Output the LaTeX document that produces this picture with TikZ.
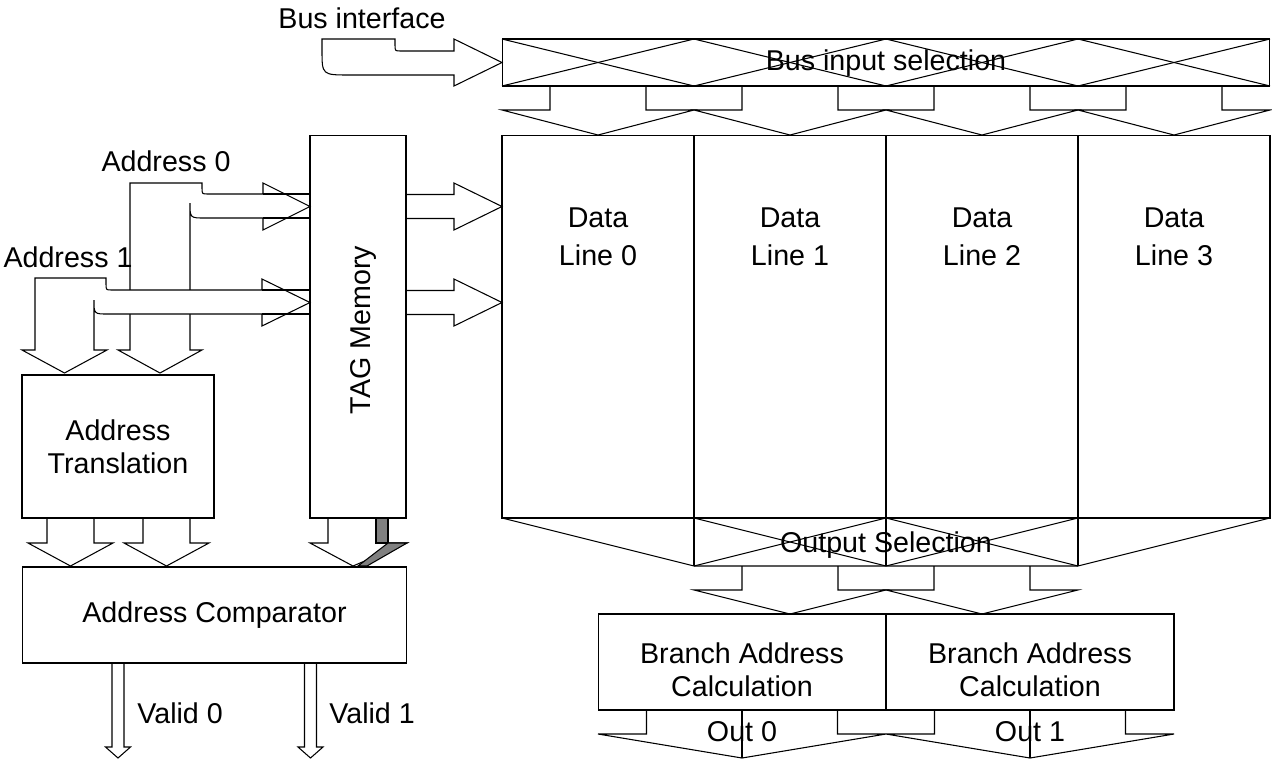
\documentclass[tikz,border=0pt]{standalone}
\usepackage{fontspec}
\setmainfont{Liberation Sans}
\tikzset{
	blockbox/.style={draw, line width=0.6pt, inner sep=0pt, outer sep=0pt},
	fatarrow/.style={draw, fill=white, line width=0.6pt, line join=miter},
	shadebar/.style={draw, fill=black!50, line width=0.6pt},
	lbl/.style={inner sep=0pt, align=center, font=\fontsize{16.3}{18.8}\selectfont}
}

\begin{document}
\begin{tikzpicture}[x=0.02cm,y=-0.02cm]
		\useasboundingbox (0,0) rectangle (1272,762);
		% bus interface arrow
		\draw[fatarrow] (322,39) -- (395,39) -- (395,45) .. controls (395,51) .. (401,51) -- (454,51) -- (454,39) -- (502,62.5) -- (454,86) -- (454,75) -- (350,75) .. controls (322,75) .. (322,50) -- cycle;
		% bus input selection -> data lines
		\foreach \c in {598,790,982,1174}
			\draw[fatarrow] (\c-48,86) -- (\c-48,110) -- (\c-96,110) -- (\c,135) -- (\c+96,110) -- (\c+48,110) -- (\c+48,86);
		% address 0
		\draw[fatarrow] (130,183) -- (202,183) -- (202,188) .. controls (202,194) .. (208,194) -- (263,194) -- (263,183) -- (310,206.5) -- (263,230) -- (263,218) -- (205,218) .. controls (190,218) .. (190,203) -- (190,350) -- (202,350) -- (160,373) -- (118,350) -- (130,350) -- cycle;
		\draw[line width=0.6pt] (263,194) -- (310,194) (263,218) -- (310,218);
		% address 1
		\draw[fatarrow] (35,278) -- (106,278) -- (106,284) .. controls (106,290) .. (112,290) -- (262,290) -- (262,279) -- (310,302.5) -- (262,326) -- (262,314) -- (108,314) .. controls (94,314) .. (94,300) -- (94,350) -- (107,350) -- (64.5,373) -- (22,350) -- (35,350) -- cycle;
		\draw[line width=0.6pt] (262,290) -- (310,290) (262,314) -- (310,314);
		% tag memory -> data line 0
		\foreach \m in {206.5,302.5}
			\draw[fatarrow] (406,\m-12) -- (454,\m-12) -- (454,\m-23.5) -- (502,\m) -- (454,\m+23.5) -- (454,\m+12) -- (406,\m+12);
		% address translation -> comparator
		\foreach \c in {70.5,166.5}
			\draw[fatarrow] (\c-23.5,518) -- (\c-23.5,543) -- (\c-42.5,543) -- (\c,566) -- (\c+42.5,543) -- (\c+23.5,543) -- (\c+23.5,518);
		% tag memory -> comparator
		\draw[fatarrow] (328,518) -- (328,543) -- (310,543) -- (353,566) -- (407,543) -- (388,543) -- (388,518);
		\draw[shadebar] (376,518) rectangle (388,543);
		\draw[shadebar] (388,543) -- (407,543) -- (367,566) -- (358,566) -- cycle;
		% valid outputs
		\foreach \c in {118,310.5}
			\draw[fatarrow] (\c-6,663) -- (\c-6,747) -- (\c-12.5,747) -- (\c,758) -- (\c+12.5,747) -- (\c+6,747) -- (\c+6,663);
		% output selection -> branch
		\foreach \c in {790,982}
			\draw[fatarrow] (\c-48,566) -- (\c-48,590) -- (\c-96,590) -- (\c,614) -- (\c+96,590) -- (\c+48,590) -- (\c+48,566);
		% branch -> out
		\foreach \c in {742,1030} {
			\draw[fatarrow] (\c-95.5,710) -- (\c-95.5,734) -- (\c-144,734) -- (\c,758) -- (\c+144,734) -- (\c+95.5,734) -- (\c+95.5,710);
			\draw[line width=0.6pt] (\c,710) -- (\c,758);
		}
		
		\node[blockbox, minimum width=15.36cm, minimum height=0.94cm] (busin) at (886,62.5) {};
		\foreach \a in {502,694,886,1078} {
			\draw[line width=0.6pt] (\a,39) -- (\a+192,86);
			\draw[line width=0.6pt] (\a,86) -- (\a+192,39);
		}
		\node[blockbox, minimum width=1.92cm, minimum height=7.66cm] (tag) at (358,326.5) {};
		\node[blockbox, minimum width=3.84cm, minimum height=2.86cm] (trans) at (118,446.5) {};
		\node[blockbox, minimum width=7.70cm, minimum height=1.92cm] (comp) at (214.5,615) {};
		\foreach \k/\c in {0/598,1/790,2/982,3/1174}
			\node[blockbox, minimum width=3.84cm, minimum height=7.66cm] (line\k) at (\c,326.5) {};
		\draw[line width=0.6pt] (502,518) -- (694,566) -- (1078,566) -- (1270,518);
		\foreach \a in {694,886,1078}
			\draw[line width=0.6pt] (\a,518) -- (\a,566);
		\foreach \a in {694,886} {
			\draw[line width=0.6pt] (\a,518) -- (\a+192,566);
			\draw[line width=0.6pt] (\a,566) -- (\a+192,518);
		}
		\node[blockbox, minimum width=5.76cm, minimum height=1.92cm] (branch0) at (742,662) {};
		\node[blockbox, minimum width=5.76cm, minimum height=1.92cm] (branch1) at (1030,662) {};
		
		\node[lbl] (busif) at (362,18) {Bus interface};
		\node[lbl] (busintext) at (886,63) {Bus input selection};
		\node[lbl] (addr0) at (166,161) {Address 0};
		\node[lbl] (addr1) at (68,257) {Address 1};
		\node[lbl, rotate=90] (tagtext) at (363,330) {TAG Memory};
		\node[lbl] (transtext) at (trans.center) {Address\\Translation};
		\node[lbl] (comptext) at (comp.center) {Address Comparator};
		\foreach \k/\c in {0/598,1/790,2/982,3/1174}
			\node[lbl] (linetext\k) at (\c,237) {Data\\[2.8pt]Line \k};
		\node[lbl] (outsel) at (886,545) {Output Selection};
		\node[lbl] (branchtext0) at (742,670) {Branch Address\\Calculation};
		\node[lbl] (branchtext1) at (1030,670) {Branch Address\\Calculation};
		\node[lbl, anchor=west] (valid0) at (137,713) {Valid 0};
		\node[lbl, anchor=west] (valid1) at (329,713) {Valid 1};
		\node[lbl] (out0) at (742,732) {Out 0};
		\node[lbl] (out1) at (1030,732) {Out 1};
\end{tikzpicture}
\end{document}
